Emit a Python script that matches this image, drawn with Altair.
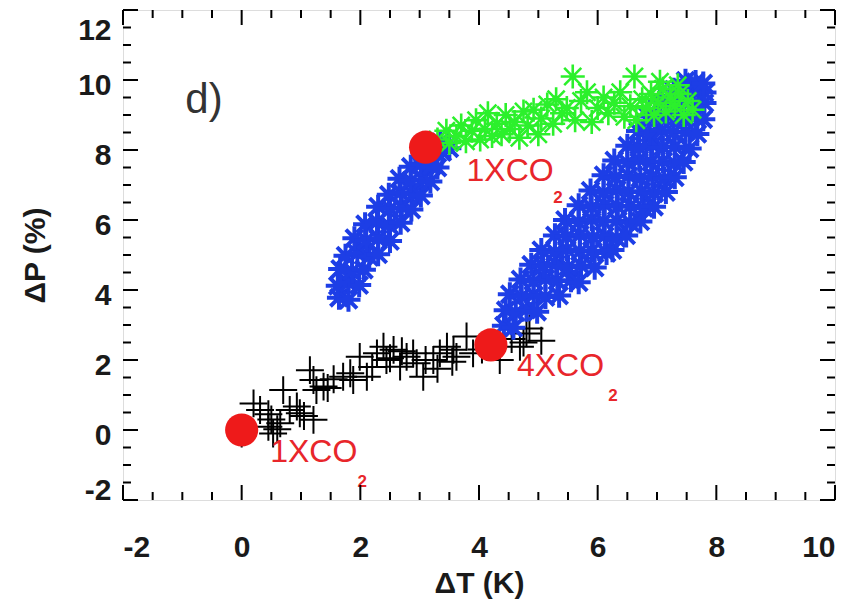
import altair as alt
import pandas as pd

# ---------------- data ----------------
black_x = [0.00, 0.20, 0.31, 0.45, 0.53, 0.50, 0.60, 0.65, 0.45, 0.70, 0.81, 0.93, 0.98, 1.05,
           1.21, 1.15, 1.21, 1.26, 1.38, 1.45, 1.55, 1.71, 1.83, 1.88, 1.99, 2.11, 2.20, 2.28,
           2.39, 2.44, 2.50, 2.56, 2.67, 2.70, 2.78, 2.89, 2.95, 3.06, 3.10, 3.23, 3.30, 3.34,
           3.46, 3.55, 3.57, 3.62, 3.79, 3.90, 4.05, 4.35, 4.55, 4.69, 4.75, 4.80, 4.85, 5.05]
black_y = [-0.10, 0.76, 0.57, 0.09, -0.10, 0.30, 0.02, 0.19, 0.45, 1.14, 0.57, 0.67, 0.48, 0.40,
           0.29, 1.71, 1.43, 1.14, 1.24, 1.20, 1.45, 1.52, 1.62, 1.43, 2.09, 1.52, 1.80, 2.19,
           2.38, 2.00, 2.05, 2.29, 1.81, 2.25, 2.09, 2.19, 1.91, 1.52, 2.00, 2.00, 1.75, 2.19,
           2.38, 1.95, 2.29, 2.09, 2.67, 2.19, 2.30, 2.00, 2.60, 2.38, 2.50, 2.76, 2.90, 2.55]

blue_x = [
    # branch 1
    1.64, 1.80,
    1.62, 1.80, 1.98,
    1.66, 1.86, 2.06,
    1.75, 1.95, 2.15, 2.30,
    1.90, 2.10, 2.30, 2.50,
    2.08, 2.28, 2.48, 2.68,
    2.30, 2.50, 2.70, 2.86,
    2.48, 2.68, 2.88, 3.02,
    2.66, 2.85, 3.05, 3.18,
    2.85, 3.02, 3.20, 3.30,
    3.05, 3.22, 3.38,
    3.35, 3.50,
    # branch 2
    4.42, 4.58,
    4.45, 4.62, 4.80, 4.98,
    4.52, 4.72, 4.92, 5.12, 5.35,
    4.70, 4.92, 5.12, 5.32, 5.55, 5.68,
    4.88, 5.08, 5.30, 5.50, 5.72, 5.95,
    5.05, 5.28, 5.48, 5.70, 5.90, 6.15, 6.25,
    5.28, 5.48, 5.70, 5.92, 6.12, 6.32, 6.48,
    5.45, 5.68, 5.90, 6.10, 6.32, 6.55, 6.72,
    5.68, 5.90, 6.12, 6.34, 6.55, 6.78, 6.95,
    5.88, 6.10, 6.32, 6.52, 6.74, 6.95, 7.15,
    6.10, 6.30, 6.52, 6.72, 6.92, 7.12, 7.30,
    6.28, 6.50, 6.70, 6.90, 7.10, 7.30, 7.45,
    6.50, 6.70, 6.92, 7.10, 7.30, 7.55,
    6.68, 6.88, 7.08, 7.28, 7.48, 7.68,
    6.85, 7.05, 7.25, 7.45, 7.65, 7.78,
    7.05, 7.25, 7.45, 7.62, 7.80,
    7.28, 7.45, 7.62, 7.80,
    7.48, 7.65, 7.78,
]
blue_y = [
    # branch 1
    3.78, 3.72,
    4.12, 4.20, 4.14,
    4.60, 4.54, 4.58,
    4.98, 5.04, 4.95, 5.02,
    5.48, 5.42, 5.46, 5.40,
    5.88, 5.94, 5.86, 5.92,
    6.38, 6.32, 6.36, 6.30,
    6.72, 6.78, 6.74, 6.70,
    7.18, 7.12, 7.16, 7.10,
    7.52, 7.58, 7.54, 7.50,
    7.92, 7.98, 7.94,
    8.22, 8.05,
    # branch 2
    2.98, 2.92,
    3.42, 3.36, 3.44, 3.38,
    3.88, 3.82, 3.86, 3.80, 3.84,
    4.30, 4.24, 4.32, 4.26, 4.28, 4.22,
    4.72, 4.68, 4.74, 4.66, 4.70, 4.64,
    5.14, 5.08, 5.16, 5.10, 5.12, 5.06, 5.14,
    5.56, 5.52, 5.58, 5.50, 5.54, 5.48, 5.56,
    6.00, 5.94, 6.02, 5.96, 5.98, 5.92, 5.96,
    6.42, 6.36, 6.44, 6.38, 6.40, 6.34, 6.38,
    6.84, 6.78, 6.86, 6.80, 6.82, 6.76, 6.80,
    7.28, 7.22, 7.26, 7.20, 7.24, 7.18, 7.22,
    7.70, 7.64, 7.72, 7.66, 7.68, 7.62, 7.66,
    8.12, 8.06, 8.14, 8.08, 8.10, 8.04,
    8.54, 8.48, 8.56, 8.50, 8.52, 8.46,
    8.96, 8.92, 8.98, 8.90, 8.94, 8.88,
    9.38, 9.32, 9.36, 9.30, 9.34,
    9.72, 9.66, 9.70, 9.64,
    9.98, 9.94, 9.90,
]

green_x = [3.30, 3.45, 3.50, 3.62, 3.70, 3.78, 3.88, 3.95, 4.02, 4.10, 4.15, 4.22, 4.30, 4.38,
           4.45, 4.52, 4.60, 4.68, 4.75, 4.82, 4.92, 5.00, 5.05, 5.15, 5.25, 5.30, 5.40, 5.48,
           5.58, 5.62, 5.72, 5.82, 5.90, 6.00, 6.10, 6.18, 6.28, 6.38, 6.45, 6.55, 6.62, 6.65,
           6.75, 6.82, 6.90, 6.95, 7.02, 7.10, 7.15, 7.22, 7.30, 7.38, 7.45, 7.52, 7.60, 7.05, 7.35]
green_y = [8.30, 8.55, 8.20, 8.40, 8.70, 8.25, 8.55, 8.85, 8.30, 8.60, 9.05, 8.40, 8.75, 8.45,
           9.00, 8.60, 8.80, 8.35, 9.10, 8.70, 9.15, 8.45, 8.90, 9.30, 8.75, 9.45, 9.05, 9.20,
           10.10, 8.85, 9.40, 9.65, 8.80, 9.20, 9.50, 9.05, 9.35, 9.65, 8.95, 9.25, 10.10, 8.85,
           9.45, 9.20, 9.60, 9.00, 9.35, 9.75, 9.10, 9.50, 9.25, 9.60, 9.00, 9.40, 9.15, 9.95, 9.85]

red_x = [0.00, 3.10, 4.20]
red_y = [0.00, 8.08, 2.43]

label_text = ["1XCO", "1XCO", "4XCO"]
label_x = [0.48, 3.79, 4.64]
label_y = [-0.63, 7.39, 1.83]
sub_text = ["2", "2", "2"]
sub_x = [2.03, 5.33, 6.26]
sub_y = [-1.49, 6.63, 0.97]

panel_text = ["d)"]
panel_x = [-0.95]
panel_y = [9.43]

x_major = [-2, 0, 2, 4, 6, 8, 10]
x_minor = [-1.5, -1, -0.5, 0.5, 1, 1.5, 2.5, 3, 3.5, 4.5, 5, 5.5, 6.5, 7, 7.5, 8.5, 9, 9.5]
y_major = [-2, 0, 2, 4, 6, 8, 10, 12]
y_minor = [-1.5, -1, -0.5, 0.5, 1, 1.5, 2.5, 3, 3.5, 4.5, 5, 5.5, 6.5, 7, 7.5,
           8.5, 9, 9.5, 10.5, 11, 11.5]

# ---------------- chart ----------------
W, H = 712, 490
FONT = "Liberation Sans"
xs = alt.Scale(domain=[-2, 10], nice=False, zero=False)
ys = alt.Scale(domain=[-2, 12], nice=False, zero=False)

PLUS = "M-1,0L1,0M0,-1L0,1"
STAR = "M-1,0L1,0M0,-1L0,1M-0.71,-0.71L0.71,0.71M-0.71,0.71L0.71,-0.71"

black_df = pd.DataFrame({"x": black_x, "y": black_y})
blue_df = pd.DataFrame({"x": blue_x, "y": blue_y})
green_df = pd.DataFrame({"x": green_x, "y": green_y})
red_df = pd.DataFrame({"x": red_x, "y": red_y})
lab_df = pd.DataFrame({"x": label_x, "y": label_y, "t": label_text})
sub_df = pd.DataFrame({"x": sub_x, "y": sub_y, "t": sub_text})
pan_df = pd.DataFrame({"x": panel_x, "y": panel_y, "t": panel_text})

MINUS_FIX = "replace(datum.label, '\u2212', '-')"

x_axis = alt.Axis(values=x_major, ticks=False, tickSize=0, domain=False, grid=False,
                  labelFont=FONT, labelFontSize=30, labelFontWeight="bold", labelColor="#1a1a1a",
                  labelPadding=32, labelExpr=MINUS_FIX,
                  title="ΔT (K)", titleFont=FONT, titleFontSize=30, titleFontWeight="bold",
                  titleColor="#1a1a1a", titleY=83, titleBaseline="middle")
y_axis = alt.Axis(values=y_major, ticks=False, tickSize=0, domain=False, grid=False,
                  labelFont=FONT, labelFontSize=30, labelFontWeight="bold", labelColor="#1a1a1a",
                  labelPadding=12, labelFlush=True, labelOffset=5, labelExpr=MINUS_FIX,
                  title="ΔP (%)", titleFont=FONT, titleFontSize=30, titleFontWeight="bold",
                  titleColor="#1a1a1a", titleX=-88, titleBaseline="middle")


def X():
    return alt.X("x:Q", scale=xs, axis=x_axis)


def Y():
    return alt.Y("y:Q", scale=ys, axis=y_axis)


black = alt.Chart(black_df).mark_point(shape=PLUS, filled=False, color="black",
                                       strokeWidth=2, size=780, opacity=1).encode(x=X(), y=Y())
blue = alt.Chart(blue_df).mark_point(shape=STAR, filled=False, color="#1d3ee6",
                                     strokeWidth=4, size=580, opacity=1).encode(x=X(), y=Y())
green = alt.Chart(green_df).mark_point(shape=STAR, filled=False, color="#2cf02c",
                                       strokeWidth=2.6, size=580, opacity=1).encode(x=X(), y=Y())
red = alt.Chart(red_df).mark_point(shape="circle", filled=True, color="#ee1a1a",
                                   size=1100, opacity=1).encode(x=X(), y=Y())
labels = alt.Chart(lab_df).mark_text(font=FONT, fontSize=32, color="#e8262b", align="left",
                                     baseline="middle").encode(x=X(), y=Y(), text="t:N")
subs = alt.Chart(sub_df).mark_text(font=FONT, fontSize=17, fontWeight="bold", color="#e8262b",
                                   align="center", baseline="middle").encode(x=X(), y=Y(), text="t:N")
panel = alt.Chart(pan_df).mark_text(font=FONT, fontSize=42, color="#333333", align="left",
                                    baseline="middle").encode(x=X(), y=Y(), text="t:N")


def xticks(vals, length):
    df = pd.DataFrame({"x": vals})
    bot = alt.Chart(df).mark_rule(color="black", strokeWidth=2).encode(
        x=X(), y=alt.value(H), y2=alt.value(H - length))
    top = alt.Chart(df).mark_rule(color="black", strokeWidth=2).encode(
        x=X(), y=alt.value(0), y2=alt.value(length))
    return [bot, top]


def yticks(vals, length):
    df = pd.DataFrame({"y": vals})
    lft = alt.Chart(df).mark_rule(color="black", strokeWidth=2).encode(
        y=Y(), x=alt.value(0), x2=alt.value(length))
    rgt = alt.Chart(df).mark_rule(color="black", strokeWidth=2).encode(
        y=Y(), x=alt.value(W), x2=alt.value(W - length))
    return [lft, rgt]


layers = [black, blue, green, red, labels, subs, panel]
layers += xticks(x_major, 15) + xticks(x_minor, 8) + yticks(y_major, 15) + yticks(y_minor, 8)

chart = alt.layer(*layers).properties(
    width=W, height=H, autosize="none",
    padding={"left": 123, "top": 10, "right": 21, "bottom": 108},
).configure_view(stroke="black", strokeWidth=2).configure(background="white")

chart.save("out.html", embed_options={"renderer": "svg", "actions": False})
